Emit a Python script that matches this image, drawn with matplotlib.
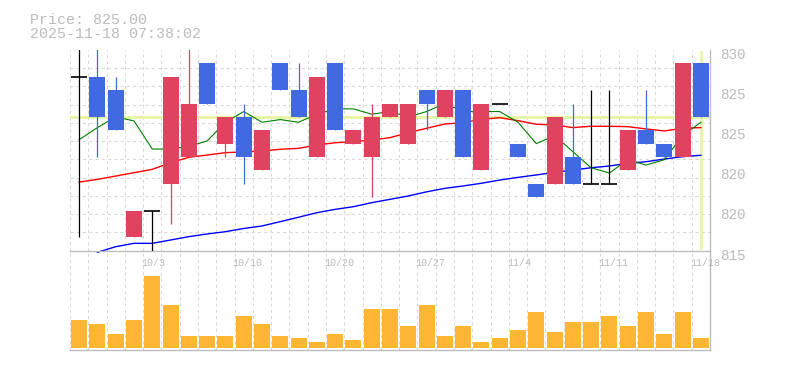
import numpy as np
import matplotlib.pyplot as plt
from matplotlib import transforms

# daily data (9/29 .. 11/18)
dates = ['9/29', '9/30', '10/1', '10/2', '10/3', '10/6', '10/7', '10/8', '10/9', '10/10',
         '10/14', '10/15', '10/16', '10/17', '10/20', '10/21', '10/22', '10/23', '10/24', '10/27',
         '10/28', '10/29', '10/30', '10/31', '11/4', '11/5', '11/6', '11/7', '11/10', '11/11',
         '11/12', '11/13', '11/14', '11/17', '11/18']
opens = [828, 828, 827, 816, 818, 820, 822, 829, 823, 825,
         821, 829, 827, 822, 829, 823, 822, 825, 823, 827,
         825, 827, 821, 826, 823, 820, 820, 822, 820, 820,
         821, 824, 823, 822, 829]
highs = [831, 831, 828, 818, 818, 828, 831, 829, 825, 826,
         824, 829, 829, 828, 829, 824, 826, 826, 826, 827,
         827, 827, 826, 826, 823, 820, 825, 826, 827, 827,
         824, 827, 823, 829, 829]
lows = [816, 822, 824, 816, 814, 817, 822, 826, 822, 820,
        821, 827, 825, 822, 824, 823, 819, 825, 823, 824,
        825, 822, 821, 826, 822, 819, 820, 820, 820, 820,
        821, 823, 822, 822, 825]
closes = [828, 825, 824, 818, 818, 828, 826, 826, 825, 822,
          824, 827, 825, 828, 824, 824, 825, 826, 826, 826,
          827, 822, 826, 826, 822, 819, 825, 820, 820, 820,
          824, 823, 822, 829, 825]
volumes = [1400, 1200, 700, 1400, 3600, 2150, 600, 600, 600, 1600,
           1200, 600, 500, 300, 700, 400, 1950, 1950, 1100, 2150,
           600, 1100, 300, 500, 900, 1800, 800, 1300, 1300, 1600,
           1100, 1800, 700, 1800, 500]
ma5 = [823.3, 824.2, 825.0, 824.7, 822.6, 822.6, 822.8, 823.2, 824.6, 825.4,
       824.6, 824.8, 824.6, 825.2, 825.6, 825.6, 825.2, 825.4, 825.0, 825.4,
       826.0, 825.4, 825.4, 825.4, 824.6, 823.0, 823.6, 822.4, 821.2, 820.8,
       821.8, 821.4, 821.8, 823.6, 824.6]
ma25 = [820.13, 820.33, 820.58, 820.83, 821.08, 821.58, 821.98, 822.15, 822.33, 822.38,
        822.45, 822.58, 822.65, 822.9, 823.07, 823.15, 823.27, 823.45, 823.82, 824.15,
        824.47, 824.57, 824.82, 824.94, 824.72, 824.45, 824.4, 824.2, 824.3, 824.3,
        824.27, 824.1, 823.95, 824.15, 824.2]
ma75 = [None, 814.88, 815.3, 815.55, 815.55, 815.8, 816.05, 816.25, 816.42, 816.66,
        816.85, 817.17, 817.5, 817.84, 818.09, 818.29, 818.59, 818.84, 819.09, 819.4,
        819.66, 819.84, 820.04, 820.28, 820.48, 820.66, 820.86, 821.03, 821.2, 821.33,
        821.53, 821.65, 821.85, 822.03, 822.13]
ytick_vals = [830, 827, 824, 821, 818, 815]
ytick_labels = ['830', '825', '825', '820', '820', '815']
xtick_idx = [4, 9, 14, 19, 24, 29, 34]
last_price = 825.00
stamp = '2025-11-18 07:38:02'

UP = '#e0435f'
DOWN = '#4169e1'
GRID = '#d8d8d8'
AXIS = '#bdbdbd'
TXT = '#bbbbbb'
CROSS = '#e6f5a8'
MONO = 'Liberation Mono'

W, H = 785, 370
fig = plt.figure(figsize=(W / 100, H / 100), dpi=100)
axv = fig.add_axes([70 / W, (H - 350) / H, 640 / W, 99.3 / H])
ax = fig.add_axes([70 / W, (H - 250.7) / H, 640 / W, 200.7 / H])
axv.patch.set_alpha(0)
ax.patch.set_alpha(0)

x = np.arange(len(dates))
o = np.array(opens, float)
c = np.array(closes, float)
bw = 0.875

for a in (ax, axv):
    a.set_xlim(-0.5, len(dates) - 0.5)
    a.set_xticks(np.arange(-0.5, len(dates), 1), minor=True)
    a.grid(True, which='minor', axis='x', color=GRID, lw=0.75, ls=(0, (3, 3)))
    a.set_axisbelow(True)
    for s in ('top', 'left'):
        a.spines[s].set_visible(False)
    for s in ('right', 'bottom'):
        a.spines[s].set_color(AXIS)
        a.spines[s].set_linewidth(1.0)
    a.tick_params(which='both', length=0)

ax.set_ylim(815, 830)
ax.set_yticks(np.linspace(815, 830, 12), minor=True)
ax.grid(True, which='minor', axis='y', color=GRID, lw=0.75, ls=(0, (3, 3)))

# crosshair at last price
ax.axhline(last_price, color=CROSS, lw=2.2, zorder=1)
ax.axvline(x[-1], ymin=0.012, ymax=0.991, color=CROSS, lw=2.0, zorder=1)

# moving averages
ax.plot(x, ma25, color='#ff0000', lw=1.0, zorder=2, clip_on=False)
ax.plot(x, np.array(ma75, dtype=float), color='#0000ff', lw=1.0, zorder=2, clip_on=False)
ax.plot(x, ma5, color='#008000', lw=0.8, zorder=2)

# candles
cols = np.where(c > o, UP, np.where(c < o, DOWN, 'black'))
ax.vlines(x, lows, highs, colors=cols, lw=0.9, zorder=3)
body = c != o
ax.bar(x[body], np.abs(c - o)[body], bottom=np.minimum(o, c)[body], width=bw,
       color=cols[body], zorder=4)
doji = ~body
ax.hlines(c[doji], x[doji] - bw / 2, x[doji] + bw / 2, colors='black', lw=1.2, zorder=4)

# volume
axv.bar(x, volumes, width=bw, color='#ffb733', zorder=3)
axv.set_ylim(-85, 4880)
axv.set_yticks([])
axv.set_xticks([])

# axis labels
ax.yaxis.tick_right()
ax.set_yticks(ytick_vals)
ax.set_yticklabels(ytick_labels, fontfamily=MONO, fontsize=10.3, color=TXT)
ax.tick_params(axis='y', pad=7.2)
dy = transforms.ScaledTranslation(0, -3.3 / 100, fig.dpi_scale_trans)
for lbl in ax.get_yticklabels():
    lbl.set_transform(lbl.get_transform() + dy)

ax.set_xticks(xtick_idx)
ax.set_xticklabels([dates[i] for i in xtick_idx], fontfamily=MONO, fontsize=7.2,
                   color=TXT, ha='left')
ax.tick_params(axis='x', pad=5.6)
dx = transforms.ScaledTranslation(-11 / 100, 0, fig.dpi_scale_trans)
for lbl in ax.get_xticklabels():
    lbl.set_transform(lbl.get_transform() + dx)

fig.text(29.5 / W, 1 - 12.5 / H, 'Price: %.2f' % last_price, family=MONO,
         fontsize=10.8, color=TXT, va='top')
fig.text(29.5 / W, 1 - 27.5 / H, stamp, family=MONO, fontsize=10.8, color=TXT, va='top')

fig.savefig('out.png', dpi=100, facecolor='white')
